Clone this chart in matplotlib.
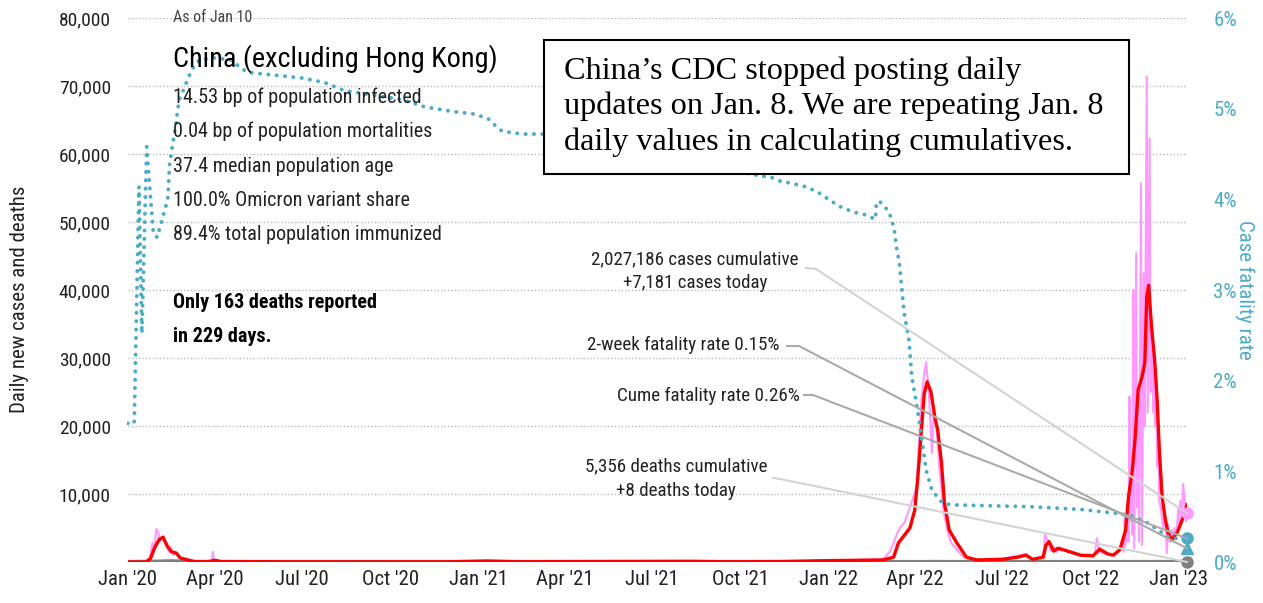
import pandas as pd
import matplotlib
matplotlib.use("Agg")
import matplotlib.pyplot as plt
import matplotlib.dates as mdates
from matplotlib import font_manager
from matplotlib.lines import Line2D
from matplotlib.patches import Rectangle
from matplotlib.ticker import FuncFormatter

# ---- data ----
# 7-day average of new cases (red)
avg_dates = ["2020-01-01", "2020-01-20", "2020-01-25", "2020-01-29", "2020-02-03", "2020-02-07",
             "2020-02-12", "2020-02-16", "2020-02-21", "2020-02-25", "2020-03-04", "2020-03-11",
             "2020-03-25", "2020-04-01", "2020-04-08", "2020-06-15", "2020-09-01", "2020-12-01",
             "2021-01-10", "2021-02-10", "2021-08-10", "2021-09-15", "2021-11-10", "2022-01-01",
             "2022-02-27", "2022-03-10", "2022-03-15", "2022-03-20", "2022-03-27", "2022-04-01",
             "2022-04-04", "2022-04-08", "2022-04-11", "2022-04-14", "2022-04-18", "2022-04-22",
             "2022-04-25", "2022-04-29", "2022-05-02", "2022-05-07", "2022-05-15", "2022-05-25",
             "2022-06-05", "2022-07-02", "2022-07-17", "2022-07-26", "2022-08-02", "2022-08-13",
             "2022-08-16", "2022-08-19", "2022-08-24", "2022-08-28", "2022-09-03", "2022-09-10",
             "2022-09-21", "2022-10-04", "2022-10-11", "2022-10-19", "2022-10-25", "2022-11-01",
             "2022-11-07", "2022-11-10", "2022-11-14", "2022-11-17", "2022-11-20", "2022-11-24",
             "2022-11-27", "2022-11-29", "2022-12-01", "2022-12-04", "2022-12-07", "2022-12-08",
             "2022-12-10", "2022-12-12", "2022-12-15", "2022-12-18", "2022-12-21", "2022-12-25",
             "2022-12-31", "2023-01-05", "2023-01-10"]
avg_cases = [0, 0, 500, 2000, 3300, 3650,
             2200, 1500, 1300, 600, 300, 50,
             40, 250, 60, 30, 20, 30,
             150, 40, 100, 40, 60, 200,
             300, 700, 2800, 3700, 5000, 7600,
             12000, 19400, 24800, 26500, 25000, 21300,
             19400, 14500, 8700, 4700, 2800, 700,
             300, 400, 700, 1000, 400, 700,
             2500, 3000, 1600, 2000, 1800, 1500,
             1000, 900, 1900, 1200, 1000, 1800,
             4700, 9600, 13500, 18400, 25300, 27200,
             29300, 39000, 40700, 34600, 30100, 28200,
             23400, 16900, 9600, 6600, 4400, 3200,
             4400, 6200, 8400]

# daily new cases (pink)
daily_dates = ["2020-01-01", "2020-01-21", "2020-01-24", "2020-01-27", "2020-01-29", "2020-01-31",
               "2020-02-02", "2020-02-04", "2020-02-05", "2020-02-08", "2020-02-10", "2020-02-12",
               "2020-02-14", "2020-02-15", "2020-02-18", "2020-02-20", "2020-02-22", "2020-02-25",
               "2020-03-01", "2020-03-10", "2020-03-29", "2020-03-30", "2020-03-31", "2020-04-10",
               "2020-06-15", "2020-09-01", "2020-12-01", "2021-01-10", "2021-02-10", "2021-08-10",
               "2021-09-15", "2021-11-10", "2022-01-01", "2022-02-27", "2022-03-06", "2022-03-10",
               "2022-03-14", "2022-03-17", "2022-03-21", "2022-03-27", "2022-04-03", "2022-04-08",
               "2022-04-11", "2022-04-13", "2022-04-16", "2022-04-19", "2022-04-21", "2022-04-24",
               "2022-04-27", "2022-05-01", "2022-05-05", "2022-05-09", "2022-05-15", "2022-05-22",
               "2022-06-05", "2022-07-02", "2022-07-17", "2022-07-26", "2022-08-02", "2022-08-13",
               "2022-08-15", "2022-08-18", "2022-08-21", "2022-08-23", "2022-08-27", "2022-08-30",
               "2022-09-05", "2022-09-12", "2022-09-21", "2022-10-06", "2022-10-08", "2022-10-11",
               "2022-10-19", "2022-10-27", "2022-11-01", "2022-11-03", "2022-11-05", "2022-11-06",
               "2022-11-07", "2022-11-09", "2022-11-10", "2022-11-11", "2022-11-12", "2022-11-13",
               "2022-11-14", "2022-11-15", "2022-11-16", "2022-11-18", "2022-11-19", "2022-11-20",
               "2022-11-21", "2022-11-23", "2022-11-24", "2022-11-26", "2022-11-27", "2022-11-29",
               "2022-11-30", "2022-12-02", "2022-12-03", "2022-12-05", "2022-12-06", "2022-12-07",
               "2022-12-08", "2022-12-09", "2022-12-10", "2022-12-11", "2022-12-12", "2022-12-14",
               "2022-12-16", "2022-12-18", "2022-12-20", "2022-12-21", "2022-12-23", "2022-12-25",
               "2022-12-27", "2022-12-28", "2022-12-30", "2023-01-01", "2023-01-02", "2023-01-03",
               "2023-01-05", "2023-01-06", "2023-01-08", "2023-01-09", "2023-01-10"]
daily_cases = [0, 0, 600, 2800, 1800, 4850,
               4400, 3000, 3500, 3700, 2500, 2000,
               1400, 2200, 1000, 1500, 900, 500,
               200, 40, 50, 1500, 100, 60,
               30, 20, 30, 150, 40, 100,
               40, 60, 200, 400, 1500, 2800,
               4300, 5100, 5700, 8000, 11000, 23800,
               27800, 29400, 24300, 16000, 22800, 19400,
               13500, 7600, 4700, 2800, 1800, 700,
               200, 500, 900, 1200, 300, 900,
               4000, 3000, 1600, 2400, 1500, 2200,
               1600, 1300, 900, 1200, 3500, 1500,
               1100, 1000, 2000, 3000, 1500, 6500,
               2500, 8700, 3000, 24300, 6000, 15500,
               4000, 40000, 2000, 45400, 8000, 25800,
               3000, 55700, 2500, 42500, 20000, 71400,
               22000, 62300, 25000, 31200, 22000, 31000,
               20000, 23400, 14000, 19000, 9000, 7600,
               5000, 7300, 1300, 5600, 3000, 4700,
               3500, 5000, 4000, 8000, 5500, 9000,
               7000, 11500, 8700, 6000, 7181]

# daily deaths (gray)
death_dates = ["2020-01-01", "2020-01-25", "2020-02-05", "2020-02-15", "2020-02-25", "2020-03-10",
               "2020-04-01", "2022-04-10", "2022-04-20", "2022-05-01", "2022-12-20", "2023-01-10"]
daily_deaths = [0, 30, 70, 110, 60, 20,
                5, 0, 10, 0, 5, 8]

# case fatality rate, % (cyan dotted, right axis)
cfr_dates = ["2020-01-01", "2020-01-08", "2020-01-13", "2020-01-16", "2020-01-21", "2020-01-23",
             "2020-01-28", "2020-02-01", "2020-02-03", "2020-02-12", "2020-02-14", "2020-02-19",
             "2020-02-24", "2020-03-08", "2020-03-16", "2020-03-30", "2020-04-17", "2020-05-05",
             "2020-06-30", "2020-07-24", "2020-08-14", "2020-10-13", "2020-11-06", "2020-12-04",
             "2020-12-28", "2021-01-11", "2021-01-20", "2021-01-26", "2021-02-16", "2021-03-09",
             "2021-05-10", "2021-08-01", "2021-10-11", "2021-10-22", "2021-11-03", "2021-11-12",
             "2021-11-22", "2021-12-08", "2021-12-21", "2022-01-01", "2022-01-13", "2022-01-27",
             "2022-02-08", "2022-02-15", "2022-02-19", "2022-02-20", "2022-02-23", "2022-02-28",
             "2022-03-05", "2022-03-08", "2022-03-11", "2022-03-13", "2022-03-16", "2022-03-21",
             "2022-03-26", "2022-03-29", "2022-04-04", "2022-04-08", "2022-04-13", "2022-04-19",
             "2022-04-30", "2022-05-10", "2022-07-30", "2022-09-21", "2022-10-26", "2022-11-13",
             "2022-11-30", "2022-12-14", "2022-12-24", "2023-01-10"]
cfr_pct = [1.53, 1.53, 4.14, 2.52, 4.58, 4.30,
           3.62, 3.58, 3.66, 4.00, 4.40, 4.73,
           5.10, 5.43, 5.54, 5.56, 5.54, 5.40,
           5.34, 5.29, 5.20, 5.10, 5.02, 4.97,
           4.94, 4.89, 4.80, 4.75, 4.72, 4.72,
           4.62, 4.45, 4.28, 4.26, 4.24, 4.20,
           4.18, 4.14, 4.08, 4.00, 3.92, 3.86,
           3.83, 3.80, 3.78, 3.96, 3.98, 3.93,
           3.86, 3.78, 3.64, 3.47, 3.30, 2.75,
           2.45, 2.04, 1.68, 1.38, 1.01, 0.79,
           0.65, 0.63, 0.61, 0.58, 0.54, 0.51,
           0.43, 0.33, 0.26, 0.26]

last_date = "2023-01-10"
cases_today = 7181
deaths_today = 8
cfr_two_week = 0.15
cfr_cume = 0.26

tick_dates = ["2020-01-01", "2020-04-01", "2020-07-01", "2020-10-01", "2021-01-01", "2021-04-01",
              "2021-07-01", "2021-10-01", "2022-01-01", "2022-04-01", "2022-07-01", "2022-10-01",
              "2023-01-01"]
tick_labels = ["Jan '20", "Apr '20", "Jul '20", "Oct '20", "Jan '21", "Apr '21",
               "Jul '21", "Oct '21", "Jan '22", "Apr '22", "Jul '22", "Oct '22", "Jan '23"]

stat_lines = ["14.53 bp of population infected",
              "0.04 bp of population mortalities",
              "37.4 median population age",
              "100.0% Omicron variant share",
              "89.4% total population immunized"]
note_lines = ["China\u2019s CDC stopped posting daily",
              "updates on Jan. 8. We are repeating Jan. 8",
              "daily values in calculating cumulatives."]

# ---- pick a narrow sans if one is installed ----
fonts = font_manager.fontManager.ttflist
names = {f.name for f in fonts}
narrow = None
for n in ["Liberation Sans Narrow", "Roboto Condensed", "Open Sans Condensed", "Noto Sans Condensed"]:
    if n in names:
        narrow = n
        break
if narrow:
    plt.rcParams['font.family'] = [narrow, 'DejaVu Sans']
    shrink = 1.0
else:
    cond = [f for f in fonts if 'condensed' in str(f.stretch) or 'Condensed' in f.fname]
    if cond:
        plt.rcParams['font.family'] = [cond[0].name, 'DejaVu Sans']
        plt.rcParams['font.stretch'] = 'condensed'
        shrink = 0.95
    else:
        plt.rcParams['font.family'] = ['DejaVu Sans']
        shrink = 0.8
fs = lambda s: s * shrink

CYAN = "#4bacc6"
PINK = "#ff99ff"
RED = "#ff0000"
GRAY = "#808080"
TXT = "#222222"

W, H = 1263, 603
def fx(x):
    return x / W
def fy(y):
    return 1 - y / H

fig = plt.figure(figsize=(W / 100, H / 100), dpi=100)
ax = fig.add_axes([fx(127.5), fy(562), (1187 - 127.5) / W, (562 - 18) / H])
ax2 = ax.twinx()

ax.plot(pd.to_datetime(daily_dates), daily_cases, color=PINK, lw=1.5, zorder=2)
ax.plot(pd.to_datetime(death_dates), daily_deaths, color=GRAY, lw=3, zorder=3)
ax.plot(pd.to_datetime(avg_dates), avg_cases, color=RED, lw=2.4, zorder=4)
ax2.plot(pd.to_datetime(cfr_dates), cfr_pct, color=CYAN, lw=2.8,
         linestyle=(0, (0.05, 2.1)), dash_capstyle='round', zorder=3)

end = pd.to_datetime(last_date)
ax.plot([end], [cases_today], 'o', color=PINK, ms=8, zorder=6, clip_on=False)
ax.plot([end], [deaths_today], 'o', color=GRAY, ms=8, zorder=6, clip_on=False)
ax2.plot([end], [cfr_cume], 'o', color=CYAN, ms=8, zorder=6, clip_on=False)
ax2.plot([end], [cfr_two_week], '^', color=CYAN, ms=8, zorder=6, clip_on=False)

ax.set_xlim(pd.Timestamp("2020-01-01"), end)
ax.set_ylim(0, 80000)
ax2.set_ylim(0, 6)

ax.set_yticks(range(0, 80001, 10000))
ax.set_yticklabels([""] + [f"{v:,}" for v in range(10000, 80001, 10000)])
ax.yaxis.grid(True, color="#bbbbbb", linestyle=(0, (1, 1.5)), lw=1)
ax.set_axisbelow(True)
ax.set_xticks(pd.to_datetime(tick_dates))
ax.set_xticklabels(tick_labels)
ax.tick_params(axis='x', length=0, labelsize=fs(15), pad=6, labelcolor=TXT)
ax.tick_params(axis='y', length=0, labelsize=fs(14), pad=12, labelcolor=TXT)
ax2.set_yticks(range(0, 7))
ax2.yaxis.set_major_formatter(FuncFormatter(lambda v, p: f"{v:.0f}%"))
ax2.tick_params(axis='y', length=0, labelsize=fs(15), pad=19, labelcolor=CYAN)
for a in (ax, ax2):
    for s in a.spines.values():
        s.set_visible(False)

fig.text(fx(20), fy(299), "Daily new cases and deaths", fontsize=fs(15), color=TXT,
         rotation=90, ha='center', va='center')
fig.text(fx(1245), fy(290), "Case fatality rate", color=CYAN, fontsize=fs(15),
         rotation=270, ha='center', va='center')

# left text block
fig.text(fx(173), fy(18), "As of Jan 10", fontsize=fs(11.5), color="#444444", va='center')
fig.text(fx(173), fy(59), "China (excluding Hong Kong)", fontsize=fs(20.3), color="black", va='center')
for i, line in enumerate(stat_lines):
    fig.text(fx(173), fy(97 + i * 34.5), line, fontsize=fs(14.5), color=TXT, va='center')
fig.text(fx(173), fy(302), "Only 163 deaths reported", fontsize=fs(14.5), fontweight='bold',
         color="black", va='center')
fig.text(fx(173), fy(336), "in 229 days.", fontsize=fs(14.5), fontweight='bold', color="black", va='center')

# annotation labels
fig.text(fx(695), fy(259), "2,027,186 cases cumulative", fontsize=fs(13.7), color=TXT, ha='center', va='center')
fig.text(fx(695), fy(283), "+7,181 cases today", fontsize=fs(13.7), color=TXT, ha='center', va='center')
fig.text(fx(780), fy(345), "2-week fatality rate 0.15%", fontsize=fs(13.7), color=TXT, ha='right', va='center')
fig.text(fx(800), fy(396), "Cume fatality rate 0.26%", fontsize=fs(13.7), color=TXT, ha='right', va='center')
fig.text(fx(676), fy(466), "5,356 deaths cumulative", fontsize=fs(13.7), color=TXT, ha='center', va='center')
fig.text(fx(676), fy(491), "+8 deaths today", fontsize=fs(13.7), color=TXT, ha='center', va='center')

# leader lines from labels to the end markers
inv = fig.transFigure.inverted()
def target(a, val):
    return inv.transform(a.transData.transform((mdates.date2num(end), val)))

leaders = [((806, 268), (816, 269), target(ax, cases_today), "#d3d3d3"),
           ((787, 346), (799, 346), target(ax2, cfr_two_week), "#aaaaaa"),
           ((804, 395), (813, 395), target(ax2, cfr_cume), "#aaaaaa"),
           ((773, 478), (780, 479), target(ax, deaths_today), "#d3d3d3")]
for p0, p1, t, c in leaders:
    fig.add_artist(Line2D([fx(p0[0]), fx(p1[0]), t[0]], [fy(p0[1]), fy(p1[1]), t[1]],
                          color=c, lw=1.5, zorder=5))

# note box
fig.add_artist(Rectangle((fx(544), fy(174)), (1129 - 544) / W, (174 - 40) / H,
                         facecolor="white", edgecolor="black", lw=1.5, zorder=7))
for i, line in enumerate(note_lines):
    fig.text(fx(564), fy(71 + i * 35.5), line, fontsize=23.2, family='Liberation Serif',
             color="black", va='center', zorder=8)

fig.savefig("out.png", dpi=100)
